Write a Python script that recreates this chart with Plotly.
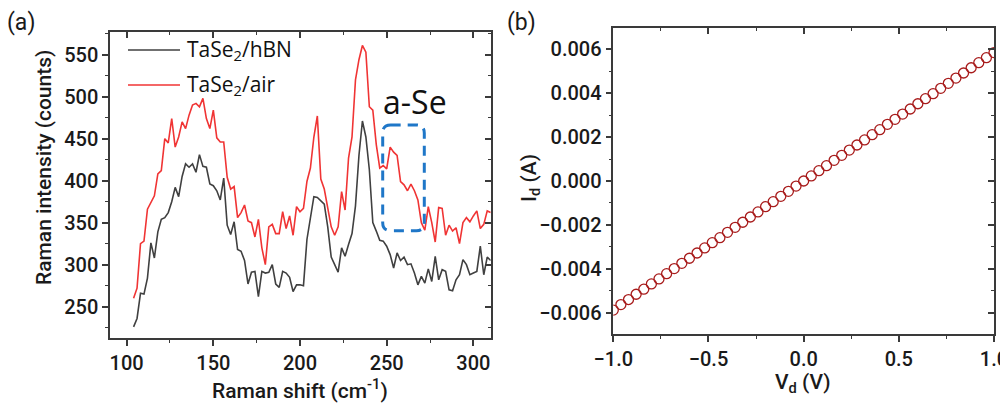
import plotly.graph_objects as go

# ---------------- data ----------------
raman_shift = list(range(104, 311, 2))

hbn_counts = [226, 236, 266, 265, 284, 326, 308, 339, 354, 356,
              362, 375, 392, 381, 405, 420, 416, 420, 410, 431,
              417, 416, 396, 394, 388, 377, 403, 347, 336, 351,
              318, 316, 305, 277, 291, 292, 262, 292, 290, 291,
              300, 277, 273, 292, 290, 285, 268, 276, 276, 275,
              330, 353, 381, 380, 376, 372, 345, 309, 300, 291,
              320, 310, 324, 337, 370, 430, 471, 452, 413, 350,
              340, 329, 328, 322, 312, 296, 314, 305, 309, 300,
              301, 290, 276, 286, 278, 295, 280, 310, 282, 294,
              292, 270, 269, 282, 288, 306, 300, 288, 290, 292,
              322, 288, 309, 305]

air_counts = [260, 272, 325, 328, 366, 374, 382, 408, 412, 450,
              445, 474, 440, 452, 470, 462, 478, 490, 492, 488,
              498, 474, 462, 484, 451, 446, 446, 404, 390, 393,
              356, 362, 371, 352, 350, 333, 354, 320, 300, 345,
              348, 337, 337, 363, 343, 358, 335, 369, 363, 367,
              399, 415, 452, 477, 402, 390, 365, 345, 335, 345,
              387, 365, 427, 452, 520, 544, 561, 553, 488, 484,
              443, 415, 418, 414, 440, 434, 430, 399, 395, 388,
              396, 388, 377, 350, 341, 369, 350, 327, 368, 367,
              335, 347, 340, 344, 325, 350, 356, 351, 358, 364,
              343, 348, 364, 362]

vd = [-1.00, -0.96, -0.92, -0.88, -0.84, -0.80, -0.76, -0.72, -0.68, -0.64,
      -0.60, -0.56, -0.52, -0.48, -0.44, -0.40, -0.36, -0.32, -0.28, -0.24,
      -0.20, -0.16, -0.12, -0.08, -0.04, 0.00, 0.04, 0.08, 0.12, 0.16,
      0.20, 0.24, 0.28, 0.32, 0.36, 0.40, 0.44, 0.48, 0.52, 0.56,
      0.60, 0.64, 0.68, 0.72, 0.76, 0.80, 0.84, 0.88, 0.92, 0.96, 1.00]

id_amp = [-0.00588, -0.00563, -0.00540, -0.00516, -0.00493, -0.00469, -0.00446, -0.00422,
          -0.00399, -0.00375, -0.00352, -0.00328, -0.00305, -0.00281, -0.00258, -0.00234,
          -0.00211, -0.00188, -0.00164, -0.00141, -0.00117, -0.00094, -0.00070, -0.00047,
          -0.00023, 0.00000, 0.00023, 0.00047, 0.00070, 0.00094, 0.00117, 0.00141,
          0.00164, 0.00187, 0.00211, 0.00234, 0.00258, 0.00281, 0.00305, 0.00328,
          0.00352, 0.00375, 0.00398, 0.00422, 0.00445, 0.00469, 0.00492, 0.00516,
          0.00539, 0.00562, 0.00585]

series_names = ["TaSe<sub>2</sub>/hBN", "TaSe<sub>2</sub>/air"]
series_colors = ["#404040", "#f03434"]

# ---------------- figure ----------------
# the page body adds an 8 px offset, so the figure is 1000x400 and
# reference pixel coordinates are shifted by 8 px
OFF = 8
W, H = 1000, 400
TICKFONT = dict(family="Roboto", size=20, color="#1a1a1a", weight=500)
TITLEFONT = dict(family="Roboto", size=21, color="#1a1a1a", weight=500)
PANELFONT = dict(family="Roboto", size=23, color="#1a1a1a")
LEGFONT = dict(family="Open Sans", size=21, color="#111111")
AXCOL = "#3a3a3a"

fig = go.Figure()
fig.add_trace(go.Scatter(x=raman_shift, y=hbn_counts, mode="lines",
                         line=dict(color=series_colors[0], width=1.6),
                         xaxis="x", yaxis="y", showlegend=False))
fig.add_trace(go.Scatter(x=raman_shift, y=air_counts, mode="lines",
                         line=dict(color=series_colors[1], width=1.6),
                         xaxis="x", yaxis="y", showlegend=False))
fig.add_trace(go.Scatter(x=vd, y=id_amp, mode="markers",
                         marker=dict(symbol="circle-open", size=10, color="#a81c1c",
                                     line=dict(width=1.3, color="#a81c1c")),
                         xaxis="x2", yaxis="y2", showlegend=False))

def px(xp):
    return (xp - OFF) / W

def py(yp):
    return 1 - (yp - OFF) / H

left_xdom = [px(110), px(490.7)]
left_ydom = [py(338), py(32)]
right_xdom = [px(613.3), px(994)]
right_ydom = [py(334), py(28)]

xr_left = [90.4, 310]
yr_left = [212.7, 577]
xr_right = [-1.0, 1.0]
yr_right = [-0.00697, 0.00697]

def base_axis(**kw):
    d = dict(showline=True, linecolor=AXCOL, linewidth=1.5, showgrid=False,
             zeroline=False, ticks="outside", ticklen=6, tickwidth=1.5,
             tickcolor=AXCOL, tickfont=TICKFONT, ticklabeloverflow="allow",
             minor=dict(ticks="outside", ticklen=3, tickwidth=1.3, tickcolor=AXCOL, showgrid=False))
    d.update(kw)
    return d

def mirror_axis(**kw):
    d = dict(showline=True, linecolor=AXCOL, linewidth=1.5, showgrid=False,
             zeroline=False, ticks="inside", ticklen=6, tickwidth=1.5,
             tickcolor=AXCOL, showticklabels=False,
             minor=dict(ticks="inside", ticklen=3, tickwidth=1.3, tickcolor=AXCOL, showgrid=False))
    d.update(kw)
    return d

fig.update_layout(
    width=W, height=H,
    margin=dict(l=0, r=0, t=0, b=0, autoexpand=False),
    paper_bgcolor="white", plot_bgcolor="white",
    showlegend=False,
    xaxis=base_axis(domain=left_xdom, range=xr_left, anchor="y",
                    tick0=100, dtick=50, minor_dtick=25, minor_tick0=100),
    yaxis=base_axis(domain=left_ydom, range=yr_left, anchor="x",
                    tick0=0, dtick=50, minor_dtick=25, minor_tick0=0),
    xaxis3=mirror_axis(overlaying="x", side="top", anchor="y", range=xr_left,
                       tick0=100, dtick=50, minor_dtick=25, minor_tick0=100),
    yaxis3=mirror_axis(overlaying="y", side="right", anchor="x", range=yr_left,
                       tick0=0, dtick=50, minor_dtick=25, minor_tick0=0),
    xaxis2=base_axis(domain=right_xdom, range=xr_right, anchor="y2",
                     tick0=0, dtick=0.5, minor_dtick=0.25, minor_tick0=0,
                     tickformat=".1f"),
    yaxis2=base_axis(domain=right_ydom, range=yr_right, anchor="x2",
                     tick0=0, dtick=0.002, minor_dtick=0.001, minor_tick0=0,
                     tickformat=".3f"),
    xaxis4=mirror_axis(overlaying="x2", side="top", anchor="y2", range=xr_right,
                       tick0=0, dtick=0.5, minor_dtick=0.25, minor_tick0=0),
    yaxis4=mirror_axis(overlaying="y2", side="right", anchor="x2", range=yr_right,
                       tick0=0, dtick=0.002, minor_dtick=0.001, minor_tick0=0),
)

fig.add_trace(go.Scatter(x=[xr_left[0]], y=[yr_left[0]], xaxis="x3", yaxis="y3",
                         mode="markers", marker=dict(opacity=0), hoverinfo="skip", showlegend=False))
fig.add_trace(go.Scatter(x=[xr_right[0]], y=[yr_right[0]], xaxis="x4", yaxis="y4",
                         mode="markers", marker=dict(opacity=0), hoverinfo="skip", showlegend=False))

# legend (manual)
leg_rows = [50, 85]
for name, col, yrow in zip(series_names, series_colors, leg_rows):
    fig.add_shape(type="line", xref="paper", yref="paper",
                  x0=px(128), x1=px(180), y0=py(yrow), y1=py(yrow),
                  line=dict(color=col, width=1.6))
    fig.add_annotation(text=name, xref="paper", yref="paper", x=px(185), y=py(yrow),
                       xanchor="left", yanchor="middle", showarrow=False, font=LEGFONT)

# a-Se dashed rounded box
x0, x1, y0, y1 = 247.7, 271.7, 340.5, 466.3
rx, ry = 4.6, 9.5
path = (f"M {x0+rx},{y1} L {x1-rx},{y1} Q {x1},{y1} {x1},{y1-ry} "
        f"L {x1},{y0+ry} Q {x1},{y0} {x1-rx},{y0} L {x0+rx},{y0} "
        f"Q {x0},{y0} {x0},{y0+ry} L {x0},{y1-ry} Q {x0},{y1} {x0+rx},{y1} Z")
fig.add_shape(type="path", path=path, xref="x", yref="y",
              line=dict(color="#1f77c8", width=3, dash="10px,7px"))
fig.add_annotation(text="a-Se", xref="paper", yref="paper", x=px(415), y=py(101),
                   xanchor="center", yanchor="middle", showarrow=False,
                   font=dict(family="Open Sans", size=32, color="#111111"))

# titles and panel labels
fig.add_annotation(text="(a)", xref="paper", yref="paper", x=px(6), y=1.0,
                   xanchor="left", yanchor="top", showarrow=False, font=PANELFONT,
                   borderpad=0)
fig.add_annotation(text="(b)", xref="paper", yref="paper", x=px(506), y=1.0,
                   xanchor="left", yanchor="top", showarrow=False, font=PANELFONT,
                   borderpad=0)
fig.add_annotation(text="Raman intensity (counts)", xref="paper", yref="paper",
                   x=px(44), y=py(168), textangle=-90, xanchor="center", yanchor="middle",
                   showarrow=False, font=TITLEFONT)
fig.add_annotation(text="Raman shift (cm<sup>-1</sup>)", xref="paper", yref="paper",
                   x=px(300), y=py(389), xanchor="center", yanchor="middle",
                   showarrow=False, font=TITLEFONT)
fig.add_annotation(text="I<sub>d</sub> (A)", xref="paper", yref="paper",
                   x=px(530), y=py(178), textangle=-90, xanchor="center", yanchor="middle",
                   showarrow=False, font=TITLEFONT)
fig.add_annotation(text="V<sub>d</sub> (V)", xref="paper", yref="paper",
                   x=px(803), y=py(383), xanchor="center", yanchor="middle",
                   showarrow=False, font=TITLEFONT)

fig.write_html("out.html")
